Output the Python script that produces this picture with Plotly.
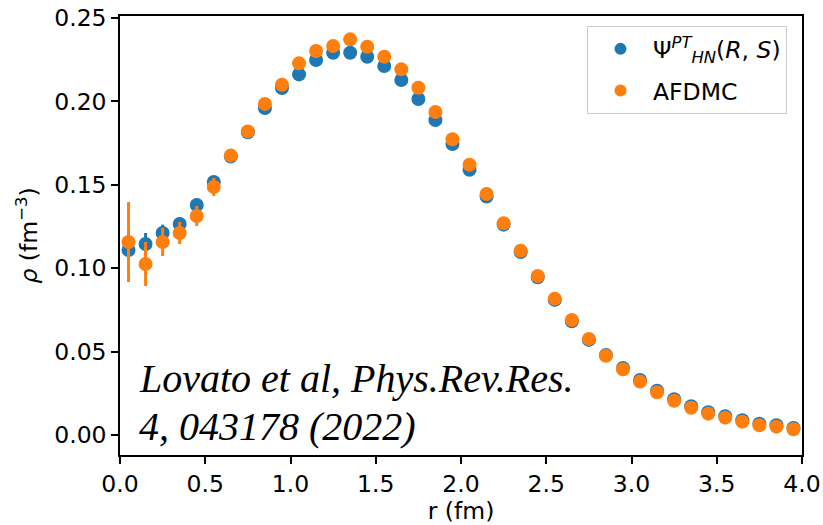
import plotly.graph_objects as go

r = [0.05, 0.15, 0.25, 0.35, 0.45, 0.55, 0.65, 0.75, 0.85, 0.95,
     1.05, 1.15, 1.25, 1.35, 1.45, 1.55, 1.65, 1.75, 1.85, 1.95,
     2.05, 2.15, 2.25, 2.35, 2.45, 2.55, 2.65, 2.75, 2.85, 2.95,
     3.05, 3.15, 3.25, 3.35, 3.45, 3.55, 3.65, 3.75, 3.85, 3.95]

rho_hn = [0.1109, 0.1145, 0.1211, 0.1265, 0.1379, 0.1517, 0.1670, 0.1815, 0.1960, 0.2080,
          0.2162, 0.2248, 0.2292, 0.2292, 0.2268, 0.2212, 0.2128, 0.2014, 0.1888, 0.1745,
          0.1590, 0.1430, 0.1261, 0.1097, 0.0945, 0.0810, 0.0682, 0.0570, 0.0480, 0.0402,
          0.0330, 0.0265, 0.0214, 0.0172, 0.0137, 0.0113, 0.0089, 0.0067, 0.0058, 0.0042]
err_hn = [0.010, 0.0066, 0.005, 0.004, 0.004, 0.003, 0.003, 0.003, 0.002, 0.002,
          0.002, 0.002, 0.002, 0.002, 0.002, 0.002, 0.002, 0.002, 0.002, 0.002,
          0.002, 0.002, 0.002, 0.002, 0.001, 0.001, 0.001, 0.001, 0.001, 0.001,
          0.001, 0.001, 0.001, 0.001, 0.001, 0.001, 0.001, 0.001, 0.001, 0.001]

rho_afdmc = [0.1157, 0.1025, 0.1157, 0.1211, 0.1313, 0.1487, 0.1675, 0.1820, 0.1985, 0.2100,
             0.2228, 0.2302, 0.2332, 0.2372, 0.2328, 0.2268, 0.2192, 0.2082, 0.1936, 0.1773,
             0.1620, 0.1445, 0.1269, 0.1105, 0.0953, 0.0817, 0.0689, 0.0576, 0.0475, 0.0394,
             0.0320, 0.0256, 0.0205, 0.0163, 0.0128, 0.0104, 0.0080, 0.0058, 0.0050, 0.0034]
err_afdmc = [0.024, 0.0132, 0.0084, 0.0066, 0.006, 0.0054, 0.003, 0.003, 0.003, 0.002,
             0.002, 0.002, 0.002, 0.002, 0.002, 0.002, 0.002, 0.002, 0.002, 0.002,
             0.002, 0.002, 0.002, 0.001, 0.001, 0.001, 0.001, 0.001, 0.001, 0.001,
             0.001, 0.001, 0.001, 0.001, 0.001, 0.001, 0.001, 0.001, 0.001, 0.001]

x_ticks = [0.0, 0.5, 1.0, 1.5, 2.0, 2.5, 3.0, 3.5, 4.0]
y_ticks = [0.00, 0.05, 0.10, 0.15, 0.20, 0.25]

blue = "#1f77b4"
orange = "#ff7f0e"
FS = 23.5

fig = go.Figure()
fig.add_trace(go.Scatter(
    x=r, y=rho_hn, mode="markers", legendgroup="hn",
    name="Ψ<sup><i>PT</i></sup><sub><i>HN</i></sub>(<i>R</i>, <i>S</i>)",
    marker=dict(color=blue, size=14),
    error_y=dict(type="data", array=err_hn, color=blue, thickness=3, width=0),
))
fig.add_trace(go.Scatter(
    x=r, y=rho_afdmc, mode="markers", name="AFDMC", legendgroup="afdmc",
    marker=dict(color=orange, size=14),
    error_y=dict(type="data", array=err_afdmc, color=orange, thickness=3, width=0),
))

fig.add_annotation(text="<i>Lovato et al, Phys.Rev.Res.</i>", xref="paper", yref="paper",
                   x=0.025, y=0.175, xanchor="left", yanchor="middle", showarrow=False,
                   font=dict(family="Liberation Serif", size=40, color="black"))
fig.add_annotation(text="<i>4, 043178 (2022)</i>", xref="paper", yref="paper",
                   x=0.025, y=0.066, xanchor="left", yanchor="middle", showarrow=False,
                   font=dict(family="Liberation Serif", size=40, color="black"))

axis_common = dict(showline=True, linecolor="black", linewidth=1.5, mirror=True,
                   ticks="outside", ticklen=7, tickwidth=1.5, tickcolor="black",
                   showgrid=False, zeroline=False, automargin=False,
                   tickfont=dict(family="DejaVu Sans", size=FS, color="black"))

fig.update_xaxes(range=[0, 4], tickvals=x_ticks, ticktext=[f"{v:.1f}" for v in x_ticks],
                 title=dict(text="r (fm)", font=dict(family="DejaVu Sans", size=FS, color="black"),
                            standoff=10),
                 **axis_common)
fig.update_yaxes(range=[-0.012, 0.2512], tickvals=y_ticks, ticktext=[f"{v:.2f}" for v in y_ticks],
                 title=dict(text="<i>ρ</i> (fm<sup>−3</sup>)",
                            font=dict(family="DejaVu Sans", size=FS, color="black"), standoff=10),
                 **axis_common)

fig.update_layout(
    width=823, height=525,
    margin=dict(l=120, r=21, t=16, b=70),
    paper_bgcolor="white", plot_bgcolor="white",
    showlegend=True,
    legend=dict(x=0.978, y=0.977, xanchor="right", yanchor="top",
                bgcolor="rgba(255,255,255,0.8)", bordercolor="#cccccc", borderwidth=1,
                font=dict(family="DejaVu Sans", size=FS, color="black"),
                itemsizing="constant", itemwidth=55, tracegroupgap=8),
)

fig.write_html("out.html")
